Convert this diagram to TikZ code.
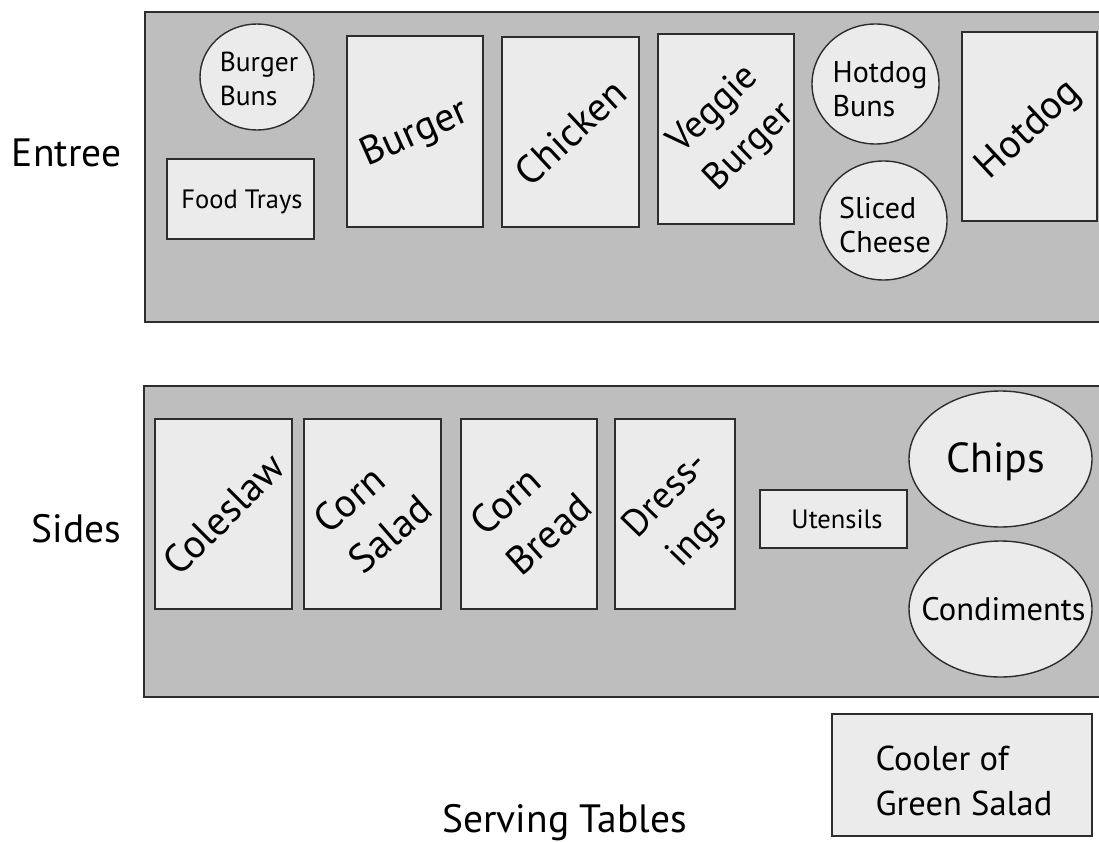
\documentclass[tikz,border=0pt]{standalone}
\usepackage{fontspec}
\setmainfont{PT Sans}
\usetikzlibrary{shapes.geometric}
\definecolor{tablegray}{RGB}{190,190,190}
\definecolor{itemgray}{RGB}{235,235,235}
\definecolor{linec}{RGB}{45,45,45}
\tikzset{
  tbl/.style={draw=linec, fill=tablegray, line width=1.6pt, rectangle, inner sep=0pt},
  item/.style={draw=linec, fill=itemgray, line width=1.4pt, rectangle, inner sep=0pt},
  itemell/.style={item, ellipse},
  bigtxt/.style={font=\fontsize{40}{53}\selectfont, align=left, inner sep=0pt},
  smalltxt/.style={font=\fontsize{27}{33}\selectfont, align=left, inner sep=0pt},
  headtxt/.style={font=\fontsize{39.5}{46}\selectfont, inner sep=0pt, anchor=base},
}
\begin{document}
\begin{tikzpicture}[x=1pt, y=-1pt]
\useasboundingbox (0,0) rectangle (1099,842);
\clip (0,0) rectangle (1099,842);
% tables
\node[tbl, minimum width=965pt, minimum height=310pt] (toptable) at (627.5,167) {};
\node[tbl, minimum width=966pt, minimum height=311pt] (bottable) at (627,541.5) {};
% entree items
\node[itemell, minimum width=114pt, minimum height=106pt] (burgerbuns) at (257,77) {};
\node[smalltxt, font=\fontsize{27.5}{33.5}\selectfont] (burgerbunsT) at (259,79) {Burger\\Buns};
\node[item, minimum width=147pt, minimum height=80pt] (foodtrays) at (240.5,199) {};
\node[smalltxt, font=\fontsize{26.5}{33}\selectfont] (foodtraysT) at (242,202) {Food Trays};
\node[item, minimum width=136pt, minimum height=191pt] (burger) at (415,131.5) {};
\node[bigtxt, rotate=24] (burgerT) at ([yshift=-3pt]burger.center) {Burger};
\node[item, minimum width=137pt, minimum height=190pt] (chicken) at (570.5,132) {};
\node[bigtxt, rotate=43] (chickenT) at (chicken) {Chicken};
\node[item, minimum width=136pt, minimum height=190pt] (veggie) at (726,129) {};
\node[bigtxt, font=\fontsize{38}{52}\selectfont, rotate=44] (veggieT) at ([xshift=6pt]veggie.center) {Veggie\\Burger};
\node[itemell, minimum width=127pt, minimum height=120pt] (hotdogbuns) at (875.5,84) {};
\node[smalltxt, font=\fontsize{30}{34}\selectfont] (hotdogbunsT) at (880,89) {Hotdog\\Buns};
\node[itemell, minimum width=127pt, minimum height=119pt] (cheese) at (883.5,220.5) {};
\node[smalltxt, font=\fontsize{30}{34}\selectfont] (cheeseT) at (885,225) {Sliced\\Cheese};
\node[item, minimum width=135pt, minimum height=189pt] (hotdog) at (1029.5,126.5) {};
\node[bigtxt, rotate=43] (hotdogT) at ([yshift=-4pt]hotdog.center) {Hotdog};
% sides items
\node[item, minimum width=137pt, minimum height=190pt] (coleslaw) at (223.5,514) {};
\node[bigtxt, rotate=45] (coleslawT) at (coleslaw) {Coleslaw};
\node[item, minimum width=137pt, minimum height=190pt] (cornsalad) at (372.5,514) {};
\node[bigtxt, rotate=41] (cornsaladT) at (cornsalad) {Corn\\Salad};
\node[item, minimum width=136pt, minimum height=190pt] (cornbread) at (529,514) {};
\node[bigtxt, rotate=42] (cornbreadT) at ([xshift=2pt]cornbread.center) {Corn\\Bread};
\node[item, minimum width=120pt, minimum height=190pt] (dressings) at (675,514) {};
\node[bigtxt, font=\fontsize{38}{52}\selectfont, rotate=46] (dressingsT) at ([xshift=10pt]dressings.center) {Dress-\\\hspace*{10pt}ings};
\node[item, minimum width=147pt, minimum height=58pt] (utensils) at (833.5,519) {};
\node[smalltxt, font=\fontsize{26.5}{33}\selectfont] (utensilsT) at (837,519) {Utensils};
\node[itemell, minimum width=183pt, minimum height=136pt] (chips) at (1000.5,459) {};
\node[inner sep=0pt, font=\fontsize{42}{50}\selectfont] (chipsT) at (996,462) {Chips};
\node[itemell, minimum width=183pt, minimum height=136pt] (condiments) at (1000.5,609) {};
\node[inner sep=0pt, font=\fontsize{32.5}{38}\selectfont] (condimentsT) at (1003.5,609) {Condiments};
% cooler
\node[item, minimum width=260pt, minimum height=122pt] (cooler) at (962,775) {};
\node[inner sep=0pt, font=\fontsize{34.5}{45}\selectfont, align=left] (coolerT) at (964,781) {Cooler of\\Green Salad};
% headings
\node[headtxt] (entree) at (66.5,167) {Entree};
\node[headtxt] (sides) at (76.5,542) {Sides};
\node[headtxt] (serving) at (564.5,832) {Serving Tables};
\end{tikzpicture}
\end{document}
